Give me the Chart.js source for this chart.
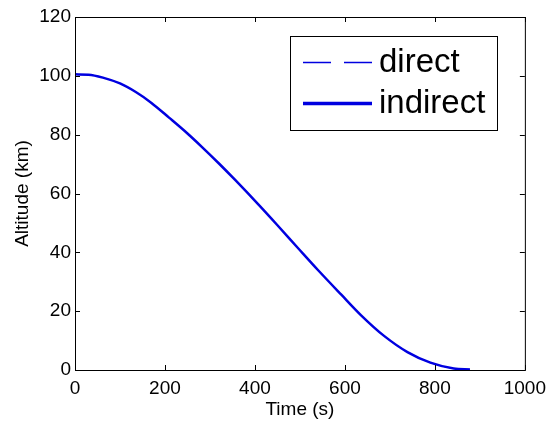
<!DOCTYPE html>
<html>
<head>
<meta charset="utf-8">
<script src="https://cdn.jsdelivr.net/npm/chart.js@4"></script>
<style>
    html, body { margin: 0; padding: 0; background: #fff; }
    #wrap { width: 553px; height: 422px; }
</style>
</head>
<body>
<div id="wrap"><canvas id="alt-chart"></canvas></div>
<script>
// Values
const timeSec = [0, 30, 62, 100, 136, 170, 209, 250, 283, 320, 356, 408, 450, 496, 540, 592, 636, 687, 739, 790, 842, 878];
const altitudeDirect = [100.5, 100.4, 99.4, 97.4, 94.4, 90.8, 85.8, 80.4, 75.7, 70.2, 64.6, 56.2, 49.2, 41.4, 34.0, 25.6, 18.6, 11.6, 6.1, 2.5, 0.5, 0.2];
const altitudeIndirect = [100.5, 100.4, 99.4, 97.4, 94.4, 90.8, 85.8, 80.4, 75.7, 70.2, 64.6, 56.2, 49.2, 41.4, 34.0, 25.6, 18.6, 11.6, 6.1, 2.5, 0.5, 0.2];
const xTicks = [0, 200, 400, 600, 800, 1000];
const yTicks = [0, 20, 40, 60, 80, 100, 120];

const FONT = '"Liberation Sans", Arial, sans-serif';

function toPoints(xs, ys) {
    return xs.map((t, i) => ({ x: t, y: ys[i] }));
}

// matlab style frame, inward ticks and legend box
const matlabFrame = {
    id: 'matlabFrame',
    afterDraw(chart) {
        const { ctx, chartArea: { left, top, right, bottom }, scales: { x, y } } = chart;
        ctx.save();
        ctx.strokeStyle = '#000';
        ctx.lineWidth = 1;
        ctx.strokeRect(left + 0.5, top + 0.5, right - left, bottom - top);

        const tick = 5;
        ctx.beginPath();
        xTicks.forEach(v => {
            const px = Math.round(x.getPixelForValue(v)) + 0.5;
            ctx.moveTo(px, bottom); ctx.lineTo(px, bottom - tick);
            ctx.moveTo(px, top); ctx.lineTo(px, top + tick);
        });
        yTicks.forEach(v => {
            const py = Math.round(y.getPixelForValue(v)) + 0.5;
            ctx.moveTo(left, py); ctx.lineTo(left + tick, py);
            ctx.moveTo(right, py); ctx.lineTo(right - tick, py);
        });
        ctx.stroke();

        // legend
        const box = { x: 290, y: 36, w: 207, h: 94 };
        ctx.fillStyle = '#fff';
        ctx.fillRect(box.x, box.y, box.w, box.h);
        ctx.strokeRect(box.x + 0.5, box.y + 0.5, box.w, box.h);

        const rows = [62, 103];
        chart.data.datasets.forEach((ds, i) => {
            const ry = rows[i] + 0.5;
            ctx.beginPath();
            ctx.strokeStyle = ds.borderColor;
            ctx.lineWidth = ds.legendWidth;
            ctx.setLineDash(ds.legendDash || []);
            ctx.moveTo(303, ry);
            ctx.lineTo(372, ry);
            ctx.stroke();
            ctx.setLineDash([]);
            ctx.fillStyle = '#000';
            ctx.font = '33px ' + FONT;
            ctx.textBaseline = 'middle';
            ctx.textAlign = 'left';
            ctx.fillText(ds.label, 379, rows[i] + 1);
        });
        ctx.restore();
    }
};

new Chart(document.getElementById('alt-chart'), {
    type: 'line',
    data: {
        datasets: [
            {
                label: 'direct',
                data: toPoints(timeSec, altitudeDirect),
                borderColor: '#0000e0',
                borderWidth: 1,
                borderDash: [10, 6],
                legendDash: [28, 13],
                legendWidth: 1.5,
                pointRadius: 0,
                fill: false,
                cubicInterpolationMode: 'monotone',
                order: 1
            },
            {
                label: 'indirect',
                data: toPoints(timeSec, altitudeIndirect),
                borderColor: '#0000e0',
                borderWidth: 2.5,
                legendWidth: 3.5,
                pointRadius: 0,
                fill: false,
                cubicInterpolationMode: 'monotone',
                order: 2
            }
        ]
    },
    options: {
        responsive: true,
        maintainAspectRatio: false,
        animation: false,
        layout: { padding: { left: 9, top: 17, right: 26, bottom: 0 } },
        plugins: {
            legend: { display: false },
            tooltip: { enabled: false }
        },
        scales: {
            x: {
                type: 'linear',
                min: 0,
                max: 1000,
                afterBuildTicks: s => { s.ticks = xTicks.map(v => ({ value: v })); },
                afterFit: s => { s.height = 52; },
                grid: { display: false, drawTicks: false },
                border: { display: false },
                ticks: {
                    color: '#000', font: { family: FONT, size: 19 }, padding: 7, maxRotation: 0,
                    callback: v => String(v)
                },
                title: {
                    display: true, text: 'Time (s)', color: '#000',
                    font: { family: FONT, size: 19 }, padding: { top: 0, bottom: 1 }
                }
            },
            y: {
                min: 0,
                max: 120,
                afterBuildTicks: s => { s.ticks = yTicks.map(v => ({ value: v })); },
                afterFit: s => { s.width = 66; },
                grid: { display: false, drawTicks: false },
                border: { display: false },
                ticks: { color: '#000', font: { family: FONT, size: 19 }, padding: 4, callback: v => String(v) },
                title: {
                    display: true, text: 'Altitude (km)', color: '#000',
                    font: { family: FONT, size: 19 }, padding: { top: 2, bottom: 0 }
                }
            }
        }
    },
    plugins: [matlabFrame]
});
</script>
</body>
</html>
